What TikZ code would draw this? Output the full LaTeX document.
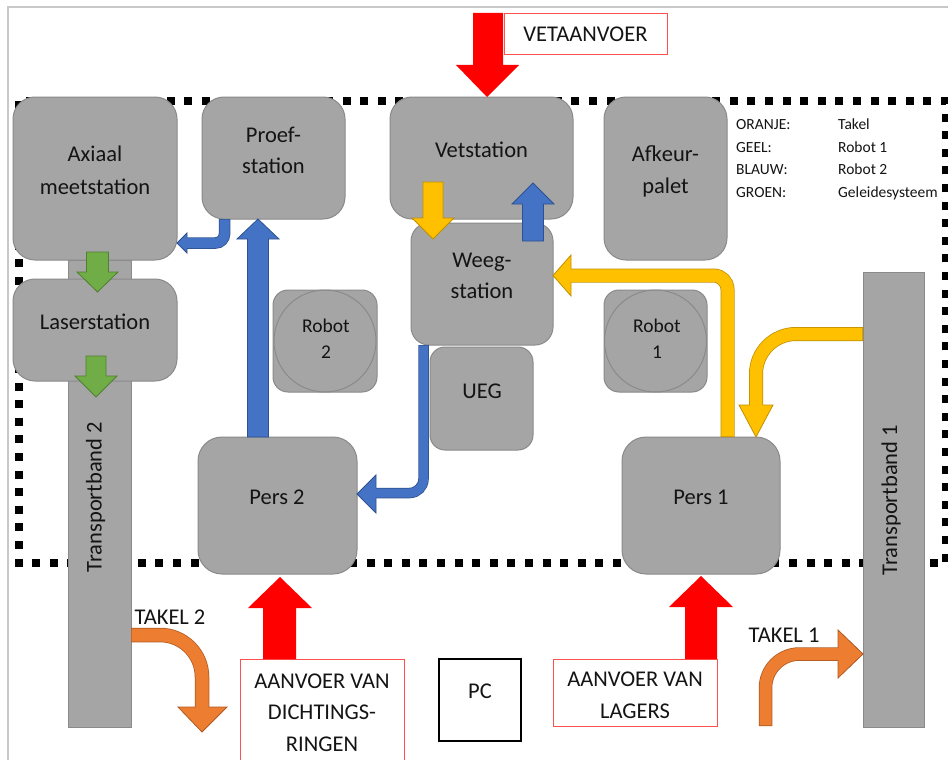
\documentclass[tikz,border=0pt]{standalone}
\usepackage{fontspec}
\setmainfont{Carlito}
\definecolor{boxfill}{RGB}{165,165,165}
\definecolor{boxline}{RGB}{138,138,138}
\definecolor{txt}{RGB}{20,20,20}
\definecolor{myblue}{RGB}{68,114,196}
\definecolor{blueline}{RGB}{47,82,143}
\definecolor{myyellow}{RGB}{255,192,0}
\definecolor{yellowline}{RGB}{191,144,0}
\definecolor{mygreen}{RGB}{112,173,71}
\definecolor{greenline}{RGB}{80,126,50}
\definecolor{myorange}{RGB}{237,125,49}
\definecolor{orangeline}{RGB}{174,90,33}
\definecolor{myred}{RGB}{255,0,0}
\definecolor{redbox}{RGB}{255,80,80}
\definecolor{framegray}{RGB}{200,200,200}
\begin{document}
\begin{tikzpicture}[x=1pt,y=-1pt,
  station/.style={draw=boxline, fill=boxfill, line width=1pt, rounded corners=22pt, inner sep=0pt, outer sep=0pt},
  band/.style={draw=boxline, fill=boxfill, line width=1pt, inner sep=0pt, outer sep=0pt},
  lbl/.style={font=\fontsize{22.5}{27}\selectfont, text=txt, anchor=base, inner sep=0pt},
  rlbl/.style={font=\fontsize{19.5}{24}\selectfont, text=txt, anchor=base, inner sep=0pt},
  leg/.style={font=\fontsize{15.5}{19}\selectfont, text=txt, anchor=base west, inner sep=0pt},
  redarrow/.style={fill=myred, draw=none},
  bluearrow/.style={fill=myblue, draw=blueline, line width=0.8pt, line join=miter},
  yellowarrow/.style={fill=myyellow, draw=yellowline, line width=0.8pt},
  greenarrow/.style={fill=mygreen, draw=greenline, line width=0.8pt},
  orangearrow/.style={fill=myorange, draw=orangeline, line width=0.8pt},
  redframe/.style={draw=redbox, fill=white, line width=1pt}
]
\useasboundingbox (0,0) rectangle (948,760);
\fill[white] (0,0) rectangle (948,760);
\draw[framegray, line width=1.5pt] (8,760) -- (8,7) -- (948,7);

% dotted work area
\draw[black, line width=8.5pt, dash pattern=on 8pt off 9.6pt] (19,101) rectangle (946,563);

% conveyor belts
\node[band, minimum width=63pt, minimum height=467pt] (tb2) at (99.5,493.5) {};
\node[band, minimum width=61pt, minimum height=455pt] (tb1) at (893.5,499.5) {};
\node[lbl, rotate=90] (tb2t) at (101.5,497) {Transportband 2};
\node[lbl, rotate=90] (tb1t) at (897,500) {Transportband 1};

% stations
\node[station, minimum width=164pt, minimum height=163pt] (axiaal) at (95,178.5) {};
\node[station, minimum width=164pt, minimum height=102pt] (laser) at (95,330) {};
\node[station, minimum width=143pt, minimum height=122pt] (proef) at (273.5,158) {};
\node[station, minimum width=183pt, minimum height=122pt] (vet) at (481.5,158) {};
\node[station, minimum width=142pt, minimum height=122pt, rounded corners=18pt] (weeg) at (482,284) {};
\node[station, minimum width=123pt, minimum height=163pt] (afkeur) at (665.5,178.5) {};
\node[station, minimum width=104pt, minimum height=102pt, rounded corners=15pt] (robot2) at (325,341) {};
\node[station, minimum width=103pt, minimum height=102pt, rounded corners=15pt] (robot1) at (655.5,341) {};
\draw[boxline, line width=1pt] (robot2.center) circle (51);
\draw[boxline, line width=1pt] (robot1.center) circle (51);
\node[station, minimum width=103pt, minimum height=103pt, rounded corners=15pt] (ueg) at (481.5,398.5) {};
\node[station, minimum width=159pt, minimum height=137pt, rounded corners=24pt] (pers2) at (277.5,505.5) {};
\node[station, minimum width=158pt, minimum height=137pt, rounded corners=24pt] (pers1) at (701,505.5) {};

% station labels
\node[lbl] (ax1) at (95,161) {Axiaal};
\node[lbl] (ax2) at (95,194) {meetstation};
\node[lbl] (la1) at (95,329) {Laserstation};
\node[lbl] (pr1) at (273.5,142) {Proef-};
\node[lbl] (pr2) at (273.5,173) {station};
\node[lbl] (ve1) at (481.5,157) {Vetstation};
\node[lbl] (we1) at (482,267) {Weeg-};
\node[lbl] (we2) at (482,298) {station};
\node[lbl] (af1) at (665.5,161) {Afkeur-};
\node[lbl] (af2) at (665.5,193) {palet};
\node[rlbl] (r21) at (326,332) {Robot};
\node[rlbl] (r22) at (326,358) {2};
\node[rlbl] (r11) at (657,332) {Robot};
\node[rlbl] (r12) at (657,358) {1};
\node[lbl] (ue1) at (482,398) {UEG};
\node[lbl] (pe2) at (277,504) {Pers 2};
\node[lbl] (pe1) at (701,504) {Pers 1};

% legend
\node[leg] (lg1) at (736,129) {ORANJE:};
\node[leg] (lg2) at (736,152) {GEEL:};
\node[leg] (lg3) at (736,174) {BLAUW:};
\node[leg] (lg4) at (736,197) {GROEN:};
\node[leg] (lv1) at (838,129) {Takel};
\node[leg] (lv2) at (838,152) {Robot 1};
\node[leg] (lv3) at (838,174) {Robot 2};
\node[leg] (lv4) at (838,197) {Geleidesysteem};

% supply boxes
\draw[redframe] (504,14) rectangle (667,55);
\node[lbl] (vetaan) at (585.5,42) {VETAANVOER};
\draw[redframe] (240,659) rectangle (404,775);
\node[lbl] (ad1) at (322,688) {AANVOER VAN};
\node[lbl] (ad2) at (322,719) {DICHTINGS-};
\node[lbl] (ad3) at (322,751) {RINGEN};
\draw[redframe] (553,659) rectangle (717,726);
\node[lbl] (al1) at (635,686) {AANVOER VAN};
\node[lbl] (al2) at (635,718) {LAGERS};
\node[draw=black, line width=1.2pt, fill=white, minimum width=82pt, minimum height=82pt, inner sep=0pt] (pc) at (480,700) {};
\node[lbl] (pct) at (480,698) {PC};

% red supply arrows
\fill[redarrow] (473,13) -- (503,13) -- (503,65) -- (519,65) -- (487,97) -- (456,65) -- (473,65) -- cycle;
\fill[redarrow] (263,659) -- (263,608) -- (248,608) -- (280,577) -- (312,608) -- (296,608) -- (296,659) -- cycle;
\fill[redarrow] (685,659) -- (685,607) -- (669,607) -- (701,576) -- (733,607) -- (717,607) -- (717,659) -- cycle;

% green arrows
\filldraw[greenarrow] (86.5,252) -- (108.5,252) -- (108.5,272) -- (118,272) -- (97.5,292) -- (77,272) -- (86.5,272) -- cycle;
\filldraw[greenarrow] (86,356) -- (106,356) -- (106,376) -- (117,376) -- (96,397) -- (75,376) -- (86,376) -- cycle;

% straight blue / yellow arrows
\filldraw[bluearrow] (247.5,437) -- (247.5,239) -- (237,239) -- (258,219) -- (279,239) -- (268.5,239) -- (268.5,437) -- cycle;
\filldraw[bluearrow] (522.5,241) -- (522.5,204) -- (512,204) -- (533,183) -- (554,204) -- (543.5,204) -- (543.5,241) -- cycle;
\filldraw[yellowarrow] (423,182) -- (443,182) -- (443,218) -- (454,218) -- (433,239) -- (412,218) -- (423,218) -- cycle;

% bent blue: Proefstation -> Axiaal
\draw[blueline, line width=11.5pt, rounded corners=9pt] (224.5,219) -- (224.5,243) -- (187,243);
\filldraw[bluearrow] (187,233) -- (177,243) -- (187,253) -- cycle;
\draw[myblue, line width=10pt, rounded corners=9pt] (224.5,219.6) -- (224.5,243) -- (185.5,243);

% bent blue: Weegstation -> Pers 2
\draw[blueline, line width=10.5pt, rounded corners=14pt] (423.5,345) -- (423.5,493) -- (376,493);
\filldraw[bluearrow] (376,475) -- (357,494) -- (376,513) -- cycle;
\draw[myblue, line width=9pt, rounded corners=14pt] (423.5,345.6) -- (423.5,493) -- (374.5,493);

% bent yellow: Pers 1 -> Weegstation
\draw[yellowline, line width=14pt, rounded corners=14pt] (727.5,437) -- (727.5,275.5) -- (571,275.5);
\filldraw[yellowarrow] (571,255) -- (553,275.5) -- (571,296) -- cycle;
\draw[myyellow, line width=12.5pt, rounded corners=14pt] (727.5,436.4) -- (727.5,275.5) -- (569.5,275.5);

% bent yellow: Transportband 1 -> Pers 1
\draw[yellowline, line width=14pt, rounded corners=40pt] (863,334) -- (756,334) -- (756,405);
\filldraw[yellowarrow] (739,405) -- (756,437) -- (773,405) -- cycle;
\draw[myyellow, line width=12.5pt, rounded corners=40pt] (862.4,334) -- (756,334) -- (756,406.5);

% orange: Takel 2
\draw[orangeline, line width=14.5pt, rounded corners=42pt] (131,635) -- (202,635) -- (202,707);
\filldraw[orangearrow] (178,707) -- (202,732) -- (227,707) -- cycle;
\draw[myorange, line width=13pt, rounded corners=42pt] (131.6,635) -- (202,635) -- (202,708.5);
\node[lbl] (tk2) at (170,624) {TAKEL 2};

% orange: Takel 1
\draw[orangeline, line width=13.5pt, rounded corners=34pt] (765.5,726) -- (765.5,654) -- (838,654);
\filldraw[orangearrow] (838,630) -- (863,654) -- (838,678) -- cycle;
\draw[myorange, line width=12pt, rounded corners=34pt] (765.5,725.4) -- (765.5,654) -- (839.5,654);
\node[lbl] (tk1) at (784,642) {TAKEL 1};
\end{tikzpicture}
\end{document}
